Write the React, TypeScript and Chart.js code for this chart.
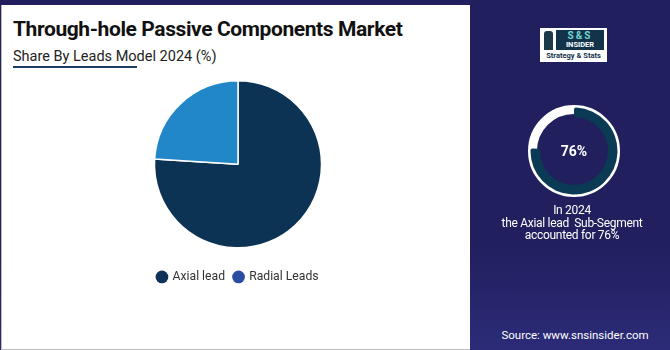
import React, { useEffect, useRef } from "react";
import { Chart, registerables } from "chart.js";

Chart.register(...registerables);

const categories = ["Axial lead", "Radial Leads"];
const shares = [76, 24];
const sliceColors = ["#0c3354", "#2287c9"];
const legendColors = ["#0f3358", "#2b4da0"];
const highlightValue = 76;

const NAVY = "#211f5e";
const FONT = "Roboto, 'Noto Sans', sans-serif";

export default function App() {
  const pieRef = useRef<HTMLCanvasElement | null>(null);
  const ringRef = useRef<HTMLCanvasElement | null>(null);

  useEffect(() => {
    document.body.style.margin = "0";
    const pie = new Chart(pieRef.current!, {
      type: "pie",
      data: {
        labels: categories,
        datasets: [
          {
            data: shares,
            backgroundColor: sliceColors,
            borderColor: "#ffffff",
            borderWidth: 1.5,
          },
        ],
      },
      options: {
        responsive: false,
        animation: false,
        layout: { padding: { top: 6, bottom: 4 } },
        plugins: {
          tooltip: { enabled: false },
          legend: {
            position: "bottom",
            title: {
              display: true,
              text: " ",
              font: { size: 1 },
              padding: { top: 12, bottom: 0 },
            },
            labels: {
              usePointStyle: true,
              pointStyle: "circle",
              boxWidth: 9,
              boxHeight: 9,
              padding: 9,
              color: "#333333",
              font: { family: FONT, size: 12.2 },
              generateLabels: () =>
                categories.map((c, i) => ({
                  text: c,
                  fillStyle: legendColors[i],
                  strokeStyle: legendColors[i],
                  lineWidth: 0,
                  pointStyle: "circle",
                  hidden: false,
                  index: i,
                  fontColor: "#333333",
                })),
            },
          },
        },
      },
    });

    const ring = new Chart(ringRef.current!, {
      type: "doughnut",
      data: {
        labels: ["Axial lead", "Other"],
        datasets: [
          {
            data: [highlightValue, 100 - highlightValue],
            backgroundColor: ["#0b3a55", "rgba(0,0,0,0)"],
            borderWidth: 0,
            borderRadius: 2,
          },
        ],
      },
      options: {
        responsive: false,
        animation: false,
        radius: 43.5,
        cutout: 39,
        plugins: { legend: { display: false }, tooltip: { enabled: false } },
      },
    });

    return () => {
      pie.destroy();
      ring.destroy();
    };
  }, []);

  return (
    <div
      style={{
        position: "relative",
        width: 670,
        height: 350,
        overflow: "hidden",
        background: `linear-gradient(180deg, ${NAVY} 0%, ${NAVY} 70%, #2c2b78 100%)`,
        fontFamily: FONT,
      }}
    >
      <div
        style={{
          position: "absolute",
          left: 1,
          top: 5,
          width: 468,
          height: 344,
          background: "#ffffff",
          borderLeft: "1px solid #bdbdbd",
          borderBottom: "1px solid #bdbdbd",
        }}
      />
      <div
        style={{
          position: "absolute",
          left: 13,
          top: 16,
          fontSize: 21,
          fontWeight: 700,
          color: "#111111",
          letterSpacing: -0.4,
          whiteSpace: "nowrap",
          lineHeight: "26px",
        }}
      >
        Through-hole Passive Components Market
      </div>
      <div
        style={{
          position: "absolute",
          left: 13,
          top: 47,
          fontSize: 14.5,
          color: "#222222",
          whiteSpace: "nowrap",
          lineHeight: "20px",
        }}
      >
        Share By Leads Model 2024 (%)
      </div>
      <div
        style={{
          position: "absolute",
          left: 13,
          top: 66,
          width: 124,
          height: 2,
          background: "#1d3d66",
        }}
      />
      <canvas
        ref={pieRef}
        width={470}
        height={223}
        style={{ position: "absolute", left: 3, top: 74, width: 470, height: 223 }}
      />

      {/* logo */}
      <div
        style={{
          position: "absolute",
          left: 540,
          top: 28,
          width: 67,
          height: 34,
          background: "#ffffff",
        }}
      >
        <div
          style={{
            position: "absolute",
            left: 4,
            top: 3,
            width: 9,
            height: 19,
            background: "#1b3a4a",
            borderRadius: "3px 3px 0 0",
          }}
        />
        <div
          style={{
            position: "absolute",
            left: 16,
            top: 2,
            width: 48,
            height: 20,
            background: "#12334a",
          }}
        >
          <div
            style={{
              fontSize: 10,
              fontWeight: 700,
              color: "#6fd3d0",
              textAlign: "center",
              lineHeight: "11px",
              letterSpacing: 2,
            }}
          >
            S&amp;S
          </div>
          <div
            style={{
              fontSize: 7.5,
              fontWeight: 700,
              color: "#ffffff",
              textAlign: "center",
              lineHeight: "8px",
            }}
          >
            INSIDER
          </div>
        </div>
        <div
          style={{
            position: "absolute",
            left: 0,
            top: 23,
            width: 67,
            fontSize: 7.5,
            fontWeight: 700,
            color: "#12334a",
            textAlign: "center",
            lineHeight: "10px",
            whiteSpace: "nowrap",
          }}
        >
          Strategy &amp; Stats
        </div>
      </div>

      {/* white ring */}
      <div
        style={{
          position: "absolute",
          left: 528,
          top: 105,
          width: 92,
          height: 92,
          boxSizing: "border-box",
          borderRadius: "50%",
          border: "9px solid #ffffff",
        }}
      />
      <canvas
        ref={ringRef}
        width={100}
        height={100}
        style={{ position: "absolute", left: 524, top: 101, width: 100, height: 100 }}
      />
      <div
        style={{
          position: "absolute",
          left: 524,
          top: 142,
          width: 100,
          textAlign: "center",
          color: "#ffffff",
          fontWeight: 700,
          fontSize: 14,
          lineHeight: "18px",
        }}
      >
        76%
      </div>
      <div
        style={{
          position: "absolute",
          left: 480,
          top: 204,
          width: 184,
          textAlign: "center",
          color: "#ffffff",
          fontSize: 12,
          letterSpacing: -0.3,
          lineHeight: "12.5px",
          whiteSpace: "pre",
        }}
      >
        {"In 2024\nthe Axial lead  Sub-Segment\naccounted for 76%"}
      </div>
      <div
        style={{
          position: "absolute",
          left: 490,
          top: 327,
          width: 170,
          textAlign: "center",
          color: "#ffffff",
          fontSize: 11.5,
          lineHeight: "16px",
          whiteSpace: "nowrap",
        }}
      >
        Source: www.snsinsider.com
      </div>
    </div>
  );
}
